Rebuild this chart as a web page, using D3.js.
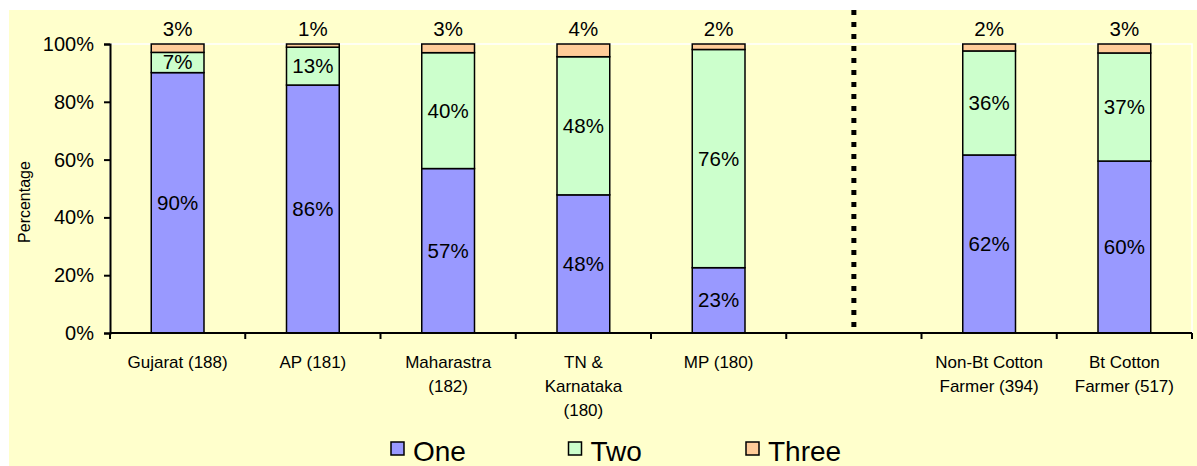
<!DOCTYPE html>
<html>
<head>
<meta charset="utf-8">
<script src="https://cdn.jsdelivr.net/npm/d3@7"></script>
<style>
  body { margin: 0; background: #fff; }
  text { font-family: "Liberation Sans", Arial, sans-serif; fill: #000; }
</style>
</head>
<body>
<div id="chart"></div>
<script>
// chart data (percent of farmers)
var categories = ["Gujarat (188)", "AP (181)", "Maharastra\n(182)", "TN &\nKarnataka\n(180)", "MP (180)", "", "Non-Bt Cotton\nFarmer (394)", "Bt Cotton\nFarmer (517)"];
var seriesNames = ["One", "Two", "Three"];
var oneValues = [90.1, 85.8, 56.9, 47.8, 22.6, null, 61.6, 59.5];
var twoValues = [7.0, 13.1, 40.1, 47.8, 75.5, null, 36.0, 37.4];
var threeValues = [2.9, 1.1, 3.0, 4.4, 1.9, null, 2.4, 3.1];
var yTicks = [0, 20, 40, 60, 80, 100];

var width = 1197, height = 466;
var colors = ["#9999FF", "#CCFFCC", "#FFCC99"];
var plot = { left: 110, right: 1192, top: 44, bottom: 333 };
var fontFam = "'Liberation Sans', Arial, sans-serif";

var svg = d3.select("#chart").append("svg")
    .attr("width", width).attr("height", height);

// chart area background
svg.append("rect").attr("x", 9).attr("y", 10)
    .attr("width", width - 9).attr("height", height - 10)
    .attr("fill", "#FFFFCC");

var keys = categories.map((c, i) => "c" + i);
var xScale = d3.scaleBand().domain(keys).range([plot.left, plot.right]).padding(0);
var yScale = d3.scaleLinear().domain([0, 100]).range([plot.bottom, plot.top]);
var barW = xScale.bandwidth() * 0.39;

// plot area border (white)
svg.append("rect")
    .attr("x", plot.left).attr("y", yScale(100))
    .attr("width", plot.right - plot.left).attr("height", yScale(0) - yScale(100))
    .attr("fill", "none").attr("stroke", "#fff").attr("stroke-width", 1.5);

var rows = keys.map((k, i) => ({ key: k, One: oneValues[i], Two: twoValues[i], Three: threeValues[i] }))
    .filter(d => d.One != null);
var stacked = d3.stack().keys(seriesNames)(rows);

var layers = svg.selectAll(".layer").data(stacked).enter().append("g")
    .attr("class", "layer").attr("fill", (d, i) => colors[i]);

layers.selectAll("rect").data(d => d).enter().append("rect")
    .attr("x", d => xScale(d.data.key) + (xScale.bandwidth() - barW) / 2)
    .attr("y", d => yScale(d[1]))
    .attr("width", barW)
    .attr("height", d => yScale(d[0]) - yScale(d[1]))
    .attr("stroke", "#000").attr("stroke-width", 1.5);

// value labels
stacked.forEach(function (layer, si) {
    svg.selectAll(".lbl" + si).data(layer).enter().append("text")
        .attr("x", d => xScale(d.data.key) + xScale.bandwidth() / 2)
        .attr("y", d => si == 2 ? yScale(100) - 8 : yScale((d[0] + d[1]) / 2) + 7)
        .attr("text-anchor", "middle")
        .style("font-family", fontFam)
        .style("font-size", "20.5px")
        .text(d => Math.round(d[1] - d[0]) + "%");
});

// y axis
var yAxis = svg.append("g").attr("transform", "translate(" + plot.left + ",0)")
    .call(d3.axisLeft(yScale).tickValues(yTicks).tickFormat(d => d + "%").tickSize(6).tickPadding(10));
yAxis.select(".domain").attr("stroke", "#000").attr("stroke-width", 2);
yAxis.selectAll(".tick line").attr("stroke", "#000").attr("stroke-width", 2);
yAxis.selectAll(".tick text").style("font-size", "20px").style("font-family", fontFam);

// x axis: ticks at category boundaries
var xAxis = svg.append("g");
xAxis.append("line")
    .attr("x1", plot.left).attr("x2", plot.right)
    .attr("y1", yScale(0)).attr("y2", yScale(0))
    .attr("stroke", "#000").attr("stroke-width", 2);
xAxis.selectAll(".xtick").data(keys.concat(["end"])).enter().append("line")
    .attr("x1", (d, i) => i < keys.length ? xScale(d) : plot.right)
    .attr("x2", (d, i) => i < keys.length ? xScale(d) : plot.right)
    .attr("y1", yScale(0)).attr("y2", yScale(0) + 6)
    .attr("stroke", "#000").attr("stroke-width", 2);

var catLabels = xAxis.selectAll(".cat").data(categories).enter().append("text")
    .attr("x", (d, i) => xScale(keys[i]) + xScale.bandwidth() / 2)
    .attr("y", yScale(0) + 35)
    .attr("text-anchor", "middle")
    .style("font-family", fontFam)
    .style("font-size", "17px");
catLabels.each(function (d) {
    var t = d3.select(this);
    var x = t.attr("x");
    d.split("\n").forEach((line, j) => {
        t.append("tspan").attr("x", x).attr("dy", j == 0 ? 0 : 24).text(line);
    });
});

// dotted divider in the empty slot
var gapX = xScale("c5") + xScale.bandwidth() / 2;
svg.append("line")
    .attr("x1", gapX).attr("x2", gapX)
    .attr("y1", 10).attr("y2", yScale(0))
    .attr("stroke", "#000").attr("stroke-width", 5)
    .attr("stroke-dasharray", "5,7");

// axis title
svg.append("text")
    .attr("transform", "translate(30,202) rotate(-90)")
    .attr("text-anchor", "middle")
    .style("font-family", fontFam)
    .style("font-size", "16px")
    .text("Percentage");

// legend
var legend = svg.selectAll(".legend").data(seriesNames).enter().append("g")
    .attr("transform", (d, i) => "translate(" + (391 + i * 177.5) + ",442)");
legend.append("rect").attr("width", 13).attr("height", 13)
    .attr("fill", (d, i) => colors[i]).attr("stroke", "#000").attr("stroke-width", 1.5);
legend.append("text").attr("x", 22).attr("y", 19)
    .style("font-family", fontFam)
    .style("font-size", "28px")
    .text(d => d);
</script>
</body>
</html>
